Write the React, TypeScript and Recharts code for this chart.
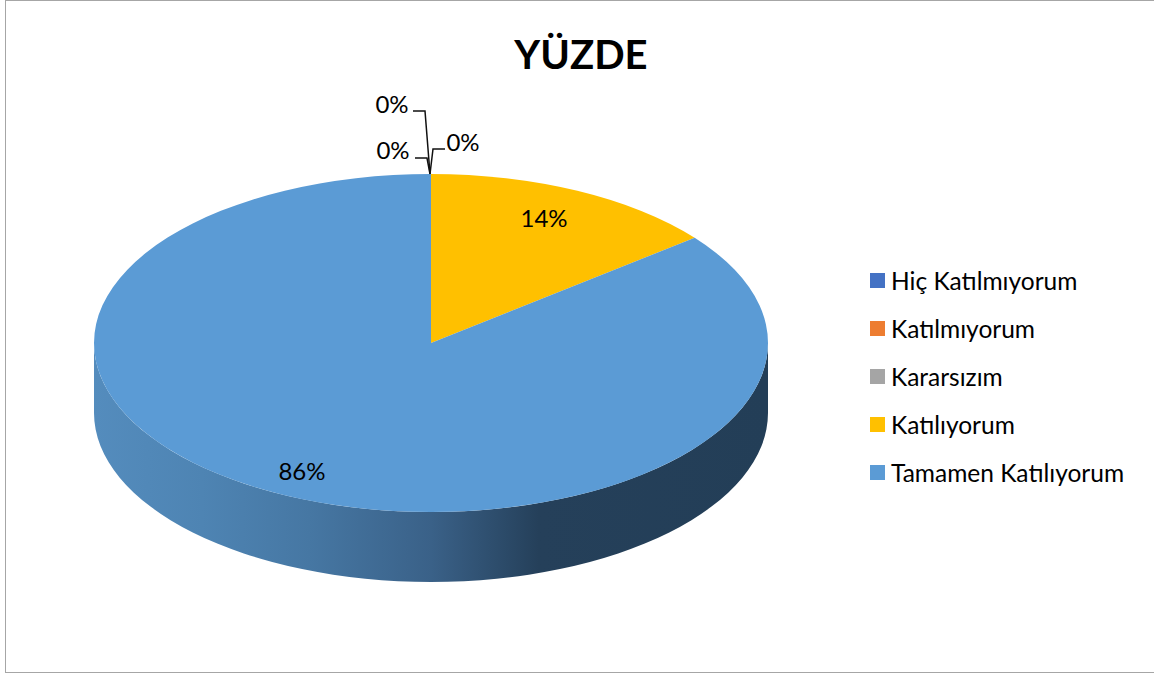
import React from 'react'
import { PieChart, Pie, Cell, Legend } from 'recharts'

const categories = ['Hiç Katılmıyorum', 'Katılmıyorum', 'Kararsızım', 'Katılıyorum', 'Tamamen Katılıyorum']
const percents = [0, 0, 0, 14.3, 85.7]
const colors = ['#4472C4', '#ED7D31', '#A5A5A5', '#FFC000', '#5B9BD5']

const chartData = categories.map((name, i) => ({ name, value: percents[i] }))

const FONT = 'Lato, "Open Sans", sans-serif'
const SQUASH = 0.5015
const DEPTH = 70
const RAD = Math.PI / 180

// zero slices get a leader line, offsets are from the tip of the slice
const leaders = [
  { text: [32, -32], line: [[14, -25], [2, -25], [-1, 0]] },
  { text: [-38, -24], line: [[-16, -16], [-4, -16], [-1, 0]] },
  { text: [-39, -70], line: [[-18, -63], [-6, -63], [-1, 0]] },
]
// small nudges for the two big labels
const labelNudge = [[0, 0], [0, 0], [0, 0], [-7, -1], [-9, 3]]

function ellipsePoint(cx: number, cy: number, r: number, angle: number) {
  return [cx + r * Math.cos(angle * RAD), cy - r * SQUASH * Math.sin(angle * RAD)]
}

function Slice3D(props: any) {
  const { cx, cy, outerRadius: r, startAngle, endAngle, fill } = props
  if (Math.abs(startAngle - endAngle) < 0.01) return null
  const ry = r * SQUASH
  const [sx, sy] = ellipsePoint(cx, cy, r, startAngle)
  const [ex, ey] = ellipsePoint(cx, cy, r, endAngle)
  const large = Math.abs(startAngle - endAngle) > 180 ? 1 : 0
  const top = `M${cx},${cy} L${sx},${sy} A${r},${ry} 0 ${large} 1 ${ex},${ey} Z`

  // front wall only where the slice passes through the lower half
  const hasWall = endAngle <= -180
  const wall = `M${cx - r},${cy} L${cx - r},${cy + DEPTH} A${r},${ry} 0 0 0 ${cx + r},${cy + DEPTH} L${cx + r},${cy} A${r},${ry} 0 0 1 ${cx - r},${cy} Z`

  return (
    <g>
      {hasWall && (
        <>
          <defs>
            <linearGradient id="wallShade" x1="0" y1="0" x2="1" y2="0">
              <stop offset="0" stopColor="#548CBD" />
              <stop offset="0.16" stopColor="#4E84B3" />
              <stop offset="0.32" stopColor="#4677A3" />
              <stop offset="0.5" stopColor="#3A6188" />
              <stop offset="0.66" stopColor="#25405A" />
              <stop offset="1" stopColor="#233E57" />
            </linearGradient>
          </defs>
          <path d={wall} fill="url(#wallShade)" />
        </>
      )}
      <path d={top} fill={fill} />
    </g>
  )
}

function SliceLabel(props: any) {
  const { cx, cy, outerRadius: r, midAngle, percent, index } = props
  const text = `${Math.round(percent * 100)}%`
  const style = { fontFamily: FONT, fontSize: 24, fill: '#000' }
  if (percent === 0) {
    const [tx, ty] = ellipsePoint(cx, cy, r, 90)
    const lead = leaders[index]
    const pts = lead.line.map(([x, y]) => `${tx + x},${ty + y}`).join(' ')
    return (
      <g>
        <polyline points={pts} fill="none" stroke="#111" strokeWidth={1.5} />
        <text x={tx + lead.text[0]} y={ty + lead.text[1]} textAnchor="middle" dominantBaseline="central" style={style}>
          {text}
        </text>
      </g>
    )
  }
  const [x, y] = ellipsePoint(cx, cy, r * 0.82, midAngle)
  return (
    <text x={x + labelNudge[index][0]} y={y + labelNudge[index][1]} textAnchor="middle" dominantBaseline="central" style={style}>
      {text}
    </text>
  )
}

function LegendList({ payload }: any) {
  return (
    <div style={{ fontFamily: FONT, fontSize: 24.5, color: '#000' }}>
      {(payload || []).map((item: any) => (
        <div key={item.value} style={{ display: 'flex', alignItems: 'center', height: 48.2, whiteSpace: 'nowrap' }}>
          <span style={{ width: 15, height: 15, background: item.color, marginRight: 6 }} />
          {item.value}
        </div>
      ))}
    </div>
  )
}

export default function App() {
  return (
    <div style={{ position: 'absolute', left: 0, top: 0, width: 1154, height: 673, overflow: 'hidden', background: '#fff' }}>
      <div
        style={{
          position: 'absolute', left: 5, top: 0, width: 1149, height: 671, boxSizing: 'content-box',
          borderLeft: '1.5px solid #A6A6A6', borderTop: '1px solid #A6A6A6', borderBottom: '1px solid #A6A6A6',
        }}
      />
      <div
        style={{
          position: 'absolute', left: 431, width: 300, top: 28, textAlign: 'center',
          fontFamily: FONT, fontWeight: 700, fontSize: 40, lineHeight: '52px', color: '#000',
        }}
      >
        YÜZDE
      </div>
      <div style={{ position: 'absolute', left: 0, top: 0 }}>
        <PieChart width={1154} height={673} margin={{ top: 0, right: 0, bottom: 0, left: 0 }}>
          <Pie
            data={chartData}
            dataKey="value"
            nameKey="name"
            cx={431}
            cy={343}
            outerRadius={337}
            startAngle={90}
            endAngle={-270}
            stroke="none"
            shape={Slice3D}
            label={SliceLabel}
            labelLine={false}
            isAnimationActive={false}
          >
            {categories.map((name, i) => (
              <Cell key={name} fill={colors[i]} />
            ))}
          </Pie>
          <Legend
            layout="vertical"
            align="right"
            verticalAlign="top"
            itemSorter={null}
            content={LegendList}
            wrapperStyle={{ left: 870, right: 'auto', top: 256, width: 284 }}
          />
        </PieChart>
      </div>
    </div>
  )
}
